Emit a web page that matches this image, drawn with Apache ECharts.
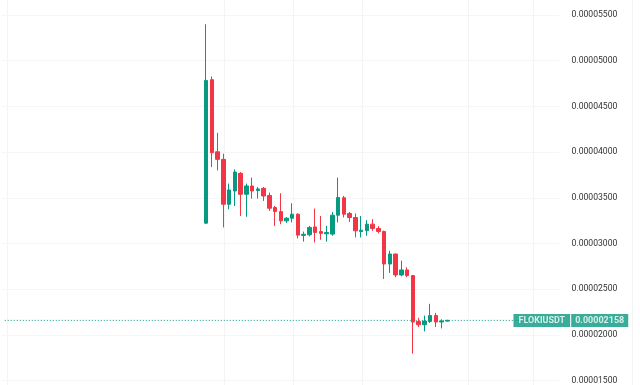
<!DOCTYPE html>
<html>
<head>
<meta charset="utf-8">
<script src="https://cdn.jsdelivr.net/npm/echarts@6/dist/echarts.min.js"></script>
<style>
html,body{margin:0;padding:0;background:#fff;}
#chart{width:640px;height:385px;}
</style>
</head>
<body>
<div id="chart"></div>
<script>
// Candle values in units of 1e-8 USDT
const bars = ['1','2','3','4','5','6','7','8','9','10','11','12','13','14','15','16','17','18','19','20','21','22','23','24','25','26','27','28','29','30','31','32','33','34','35','36','37','38','39','40','41','42','43'];
const openV  = [3222,4792,4003,3920,3429,3574,3767,3538,3629,3580,3603,3525,3393,3349,3247,3276,3320,3088,3095,3180,3130,3105,3102,3309,3500,3328,3284,3130,3140,3211,3164,3131,2775,2884,2655,2710,2648,2146,2110,2146,2211,2140,2150];
const closeV = [4784,3993,3920,3429,3585,3781,3538,3629,3574,3596,3519,3385,3349,3247,3276,3320,3091,3100,3175,3120,3110,3120,3309,3502,3320,3284,3138,3145,3211,3164,3131,2775,2884,2655,2710,2648,2140,2110,2150,2211,2140,2150,2158];
const lowV   = [3215,3836,3800,3175,3374,3410,3301,3291,3491,3491,3465,3356,3192,3211,3225,3230,3055,3020,3077,3011,3040,3018,3084,3230,3284,3236,3066,3066,3084,3138,3110,2611,2677,2630,2640,2630,1794,2085,2037,2130,2085,2070,2145];
const highV  = [5399,4828,4210,3982,3655,3810,3781,3655,3720,3618,3618,3557,3410,3549,3290,3440,3330,3130,3192,3382,3301,3192,3345,3720,3520,3345,3328,3300,3255,3266,3190,3140,2920,2890,2811,2739,2655,2186,2211,2339,2240,2170,2165];
const yTicks = [0.000015,0.00002,0.000025,0.00003,0.000035,0.00004,0.000045,0.00005,0.000055];
const lastPrice = 0.00002158;
const symbol = 'FLOKIUSDT';
const padBefore = 35, padAfter = 19;
const vGridPx = [7,224,293,362,468,533,632];

const SCALE = 1e-8;
const cats = [];
const data = [];
for (let i=0;i<padBefore;i++){cats.push('p'+i);data.push([null,null,null,null]);}
for (let i=0;i<bars.length;i++){
  cats.push(bars[i]);
  data.push([openV[i]*SCALE, closeV[i]*SCALE, lowV[i]*SCALE, highV[i]*SCALE]);
}
for (let i=0;i<padAfter;i++){cats.push('q'+i);data.push([null,null,null,null]);}
const fine = [];
for (let i=0;i<640;i++) fine.push('f'+i);

// last-price reference line spans the pane from first to last category
const firstCat = cats[0], lastCat = cats[cats.length-1];

const UP='#089981', DOWN='#f23645';
const chart = echarts.init(document.getElementById('chart'), null, {renderer:'canvas'});
chart.setOption({
  animation:false,
  backgroundColor:'#ffffff',
  grid:[
    {left:1.9, right:80.4, top:15, bottom:4},
    {left:0, right:0, top:0, bottom:0}
  ],
  xAxis:[
    {type:'category', data:cats, gridIndex:0, boundaryGap:true,
     axisLine:{show:false}, axisTick:{show:false}, axisLabel:{show:false}, splitLine:{show:false}},
    {type:'category', data:fine, gridIndex:1, boundaryGap:true,
     axisLine:{show:false}, axisTick:{show:false}, axisLabel:{show:false},
     splitLine:{show:true, interval:function(idx){return vGridPx.indexOf(idx)>=0;}, lineStyle:{color:'#f3f4f6', width:1}}}
  ],
  yAxis:[
    {type:'value', gridIndex:0, position:'right', min:yTicks[0], max:yTicks[yTicks.length-1], interval:0.000005,
     axisLine:{show:false}, axisTick:{show:false},
     splitLine:{show:true, lineStyle:{color:'#f5f6f8', width:1}},
     axisLabel:{show:true, showMinLabel:true, showMaxLabel:true, margin:12, color:'#333', fontSize:8.6, fontFamily:'Roboto',
       formatter:function(v){return v.toFixed(8);}}},
    {type:'value', gridIndex:1, min:0, max:1, show:false}
  ],
  series:[{
    type:'line', name:'lastLine', xAxisIndex:0, yAxisIndex:0, silent:true, z:1,
    data:[[firstCat,lastPrice],[lastCat,lastPrice]], symbol:'none',
    lineStyle:{color:UP, type:[1,2], width:1}
  },{
    type:'candlestick', xAxisIndex:0, yAxisIndex:0, z:2,
    data:data, barWidth:4,
    itemStyle:{color:UP, color0:DOWN, borderColor:UP, borderColor0:DOWN, borderWidth:1}
  },{
    type:'scatter', name:'lastLabel', xAxisIndex:0, yAxisIndex:0, silent:true, z:5,
    symbolSize:1, itemStyle:{color:'rgba(0,0,0,0)'},
    data:[[lastCat,lastPrice]],
    label:{show:true, position:'left', distance:0, offset:[72,0],
      formatter:function(){return '{a|'+symbol+'}{s| }{b|'+lastPrice.toFixed(8)+'}';},
      rich:{
        a:{backgroundColor:UP, color:'#fff', fontSize:9, fontWeight:'bold', fontFamily:'Roboto', padding:[2,5,2,5], lineHeight:13},
        s:{backgroundColor:'#fff', width:1, fontSize:9, lineHeight:13},
        b:{backgroundColor:UP, color:'#fff', fontSize:9, fontWeight:'bold', fontFamily:'Roboto', padding:[2,4,2,4], lineHeight:13}
      }}
  }]
});
</script>
</body>
</html>
